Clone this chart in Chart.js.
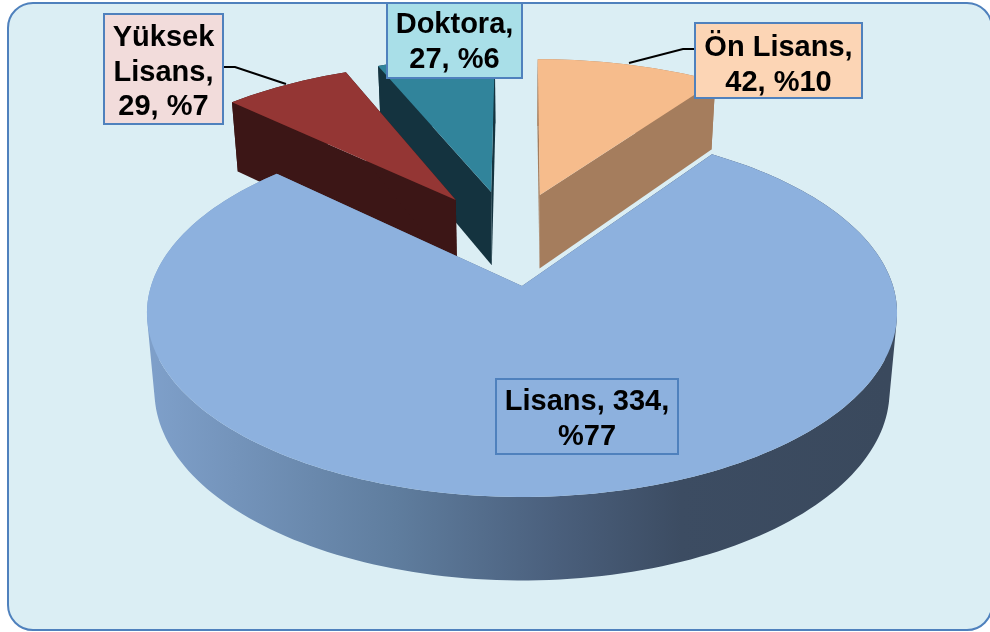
<!DOCTYPE html>
<html>
<head>
<meta charset="utf-8">
<style>
  html, body { margin: 0; padding: 0; background: #fff; overflow: hidden; }
  canvas { display: block; }
</style>
<script src="https://cdn.jsdelivr.net/npm/chart.js@4"></script>
</head>
<body>
<canvas id="chart" width="990" height="632"></canvas>
<script>
var categories = ["Ön Lisans", "Lisans", "Yüksek Lisans", "Doktora"];
var values = [42, 334, 29, 27];
var percents = [10, 77, 7, 6];

// look of each slice, same order as categories
var topColors = ["#f6bc8c", "#8db1de", "#943634", "#31849b"];
var wallColors = ["#a57d5d", null, "#3c1616", "#14333f"];
var labelFills = ["#fcd5b5", null, "#f2dcdb", "#a9dfe8"];
var labelBoxes = [[695, 23, 167, 75], [496, 379, 182, 75], [104, 14, 119, 110], [387, 3, 135, 75]];
var firstBaselines = [56, 410, 46, 33];
var leaders = [
  [[694, 49], [683, 49], [629, 63]],
  null,
  [[224, 67], [235, 67], [286, 84]],
  null
];
// how far each slice is pulled out, in pie radii (across, back)
var explode = [[0.052, 0.546], [0, 0], [-0.192, 0.514], [-0.09, 0.566]];
var drawOrder = [3, 2, 0, 1];

// perspective of the pie plane
var view = { x0: 522, y0: 286, a: 371, b: 180, p: 0.1467 };

function project(u, v, bottom) {
  var w = 1 + view.p * v;
  var x = view.x0 + view.a * u / w;
  var y = view.y0 - view.b * v / w;
  if (bottom) {
    x = view.x0 + (x - view.x0) * 0.98;
    y = y + 77 - 6.5 * v;
  }
  return [x, y];
}

function arcPoints(el, off, bottom) {
  var pts = [];
  var n = Math.max(8, Math.ceil((el.endAngle - el.startAngle) * 40));
  for (var i = 0; i <= n; i++) {
    var a = el.startAngle + (el.endAngle - el.startAngle) * i / n;
    pts.push(project(off[0] + Math.cos(a), off[1] - Math.sin(a), bottom));
  }
  return pts;
}

function addPoly(ctx, pts) {
  pts.forEach(function(p, i) {
    if (i === 0) ctx.moveTo(p[0], p[1]);
    else ctx.lineTo(p[0], p[1]);
  });
  ctx.closePath();
}

function fillPoly(ctx, pts, color) {
  ctx.beginPath();
  addPoly(ctx, pts);
  ctx.fillStyle = color;
  ctx.fill();
}

function signedArea(pts) {
  var sum = 0;
  pts.forEach(function(p, i) {
    var q = pts[(i + 1) % pts.length];
    sum += p[0] * q[1] - q[0] * p[1];
  });
  return sum;
}

function wallGradient(ctx) {
  var g = ctx.createLinearGradient(155, 0, 886, 0);
  g.addColorStop(0, "#7e9fc9");
  g.addColorStop(0.33, "#5f7d9e");
  g.addColorStop(0.55, "#4a5f7c");
  g.addColorStop(0.72, "#3c4c62");
  g.addColorStop(1, "#3a495d");
  return g;
}

function drawSlice(ctx, el, i) {
  var off = explode[i];
  var top = arcPoints(el, off, false);
  var bot = arcPoints(el, off, true);
  var wall = wallColors[i] || wallGradient(ctx);
  var apexTop = project(off[0], off[1], false);
  var apexBot = project(off[0], off[1], true);
  // curved side: one path of strips, all wound the same way, so the silhouette fills with no seams
  ctx.beginPath();
  for (var k = 0; k < top.length - 1; k++) {
    var quad = [top[k], top[k + 1], bot[k + 1], bot[k]];
    if (signedArea(quad) < 0) quad.reverse();
    addPoly(ctx, quad);
  }
  ctx.fillStyle = wall;
  ctx.fill();
  fillPoly(ctx, [apexTop, top[0], bot[0], apexBot], wall);
  fillPoly(ctx, [apexTop, top[top.length - 1], bot[bot.length - 1], apexBot], wall);
  fillPoly(ctx, [apexTop].concat(top), el.options.backgroundColor);
}

function wrapLabel(ctx, text, maxWidth) {
  var lines = [];
  var line = "";
  text.split(" ").forEach(function(word) {
    var next = line ? line + " " + word : word;
    if (line && ctx.measureText(next).width > maxWidth) {
      lines.push(line);
      line = word;
    } else {
      line = next;
    }
  });
  lines.push(line);
  return lines;
}

var pie3d = {
  id: "pie3d",
  beforeDraw: function(chart) {
    var ctx = chart.ctx;
    ctx.save();
    ctx.beginPath();
    ctx.roundRect(8, 3, 984, 627, 25);
    ctx.fillStyle = "#dbeef4";
    ctx.fill();
    ctx.lineWidth = 2;
    ctx.strokeStyle = "#4f81bd";
    ctx.stroke();
    ctx.restore();
  },
  beforeDatasetDraw: function(chart, args) {
    var ctx = chart.ctx;
    var arcs = chart.getDatasetMeta(args.index).data;
    ctx.save();
    drawOrder.forEach(function(i) { drawSlice(ctx, arcs[i], i); });
    ctx.restore();
    return false;
  },
  afterDraw: function(chart) {
    var ctx = chart.ctx;
    ctx.save();
    categories.forEach(function(cat, i) {
      var box = labelBoxes[i];
      if (leaders[i]) {
        ctx.beginPath();
        leaders[i].forEach(function(p, k) {
          if (k === 0) ctx.moveTo(p[0], p[1]);
          else ctx.lineTo(p[0], p[1]);
        });
        ctx.lineWidth = 2;
        ctx.strokeStyle = "#000";
        ctx.stroke();
      }
      if (labelFills[i]) {
        ctx.fillStyle = labelFills[i];
        ctx.fillRect(box[0], box[1], box[2], box[3]);
      }
      ctx.lineWidth = 2;
      ctx.strokeStyle = "#4f81bd";
      ctx.strokeRect(box[0], box[1], box[2], box[3]);
      ctx.font = "bold 29px 'Liberation Sans', Arial, sans-serif";
      ctx.fillStyle = "#000";
      ctx.textAlign = "center";
      ctx.textBaseline = "alphabetic";
      var text = cat + ", " + values[i] + ", %" + percents[i];
      wrapLabel(ctx, text, box[2] - 6).forEach(function(line, k) {
        ctx.fillText(line, box[0] + box[2] / 2, firstBaselines[i] + k * 34.5);
      });
    });
    ctx.restore();
  }
};

new Chart(document.getElementById("chart"), {
  type: "pie",
  data: {
    labels: categories,
    datasets: [{
      data: values,
      backgroundColor: topColors,
      borderWidth: 0
    }]
  },
  options: {
    responsive: false,
    animation: false,
    plugins: {
      legend: { display: false },
      tooltip: { enabled: false }
    }
  },
  plugins: [pie3d]
});
</script>
</body>
</html>
